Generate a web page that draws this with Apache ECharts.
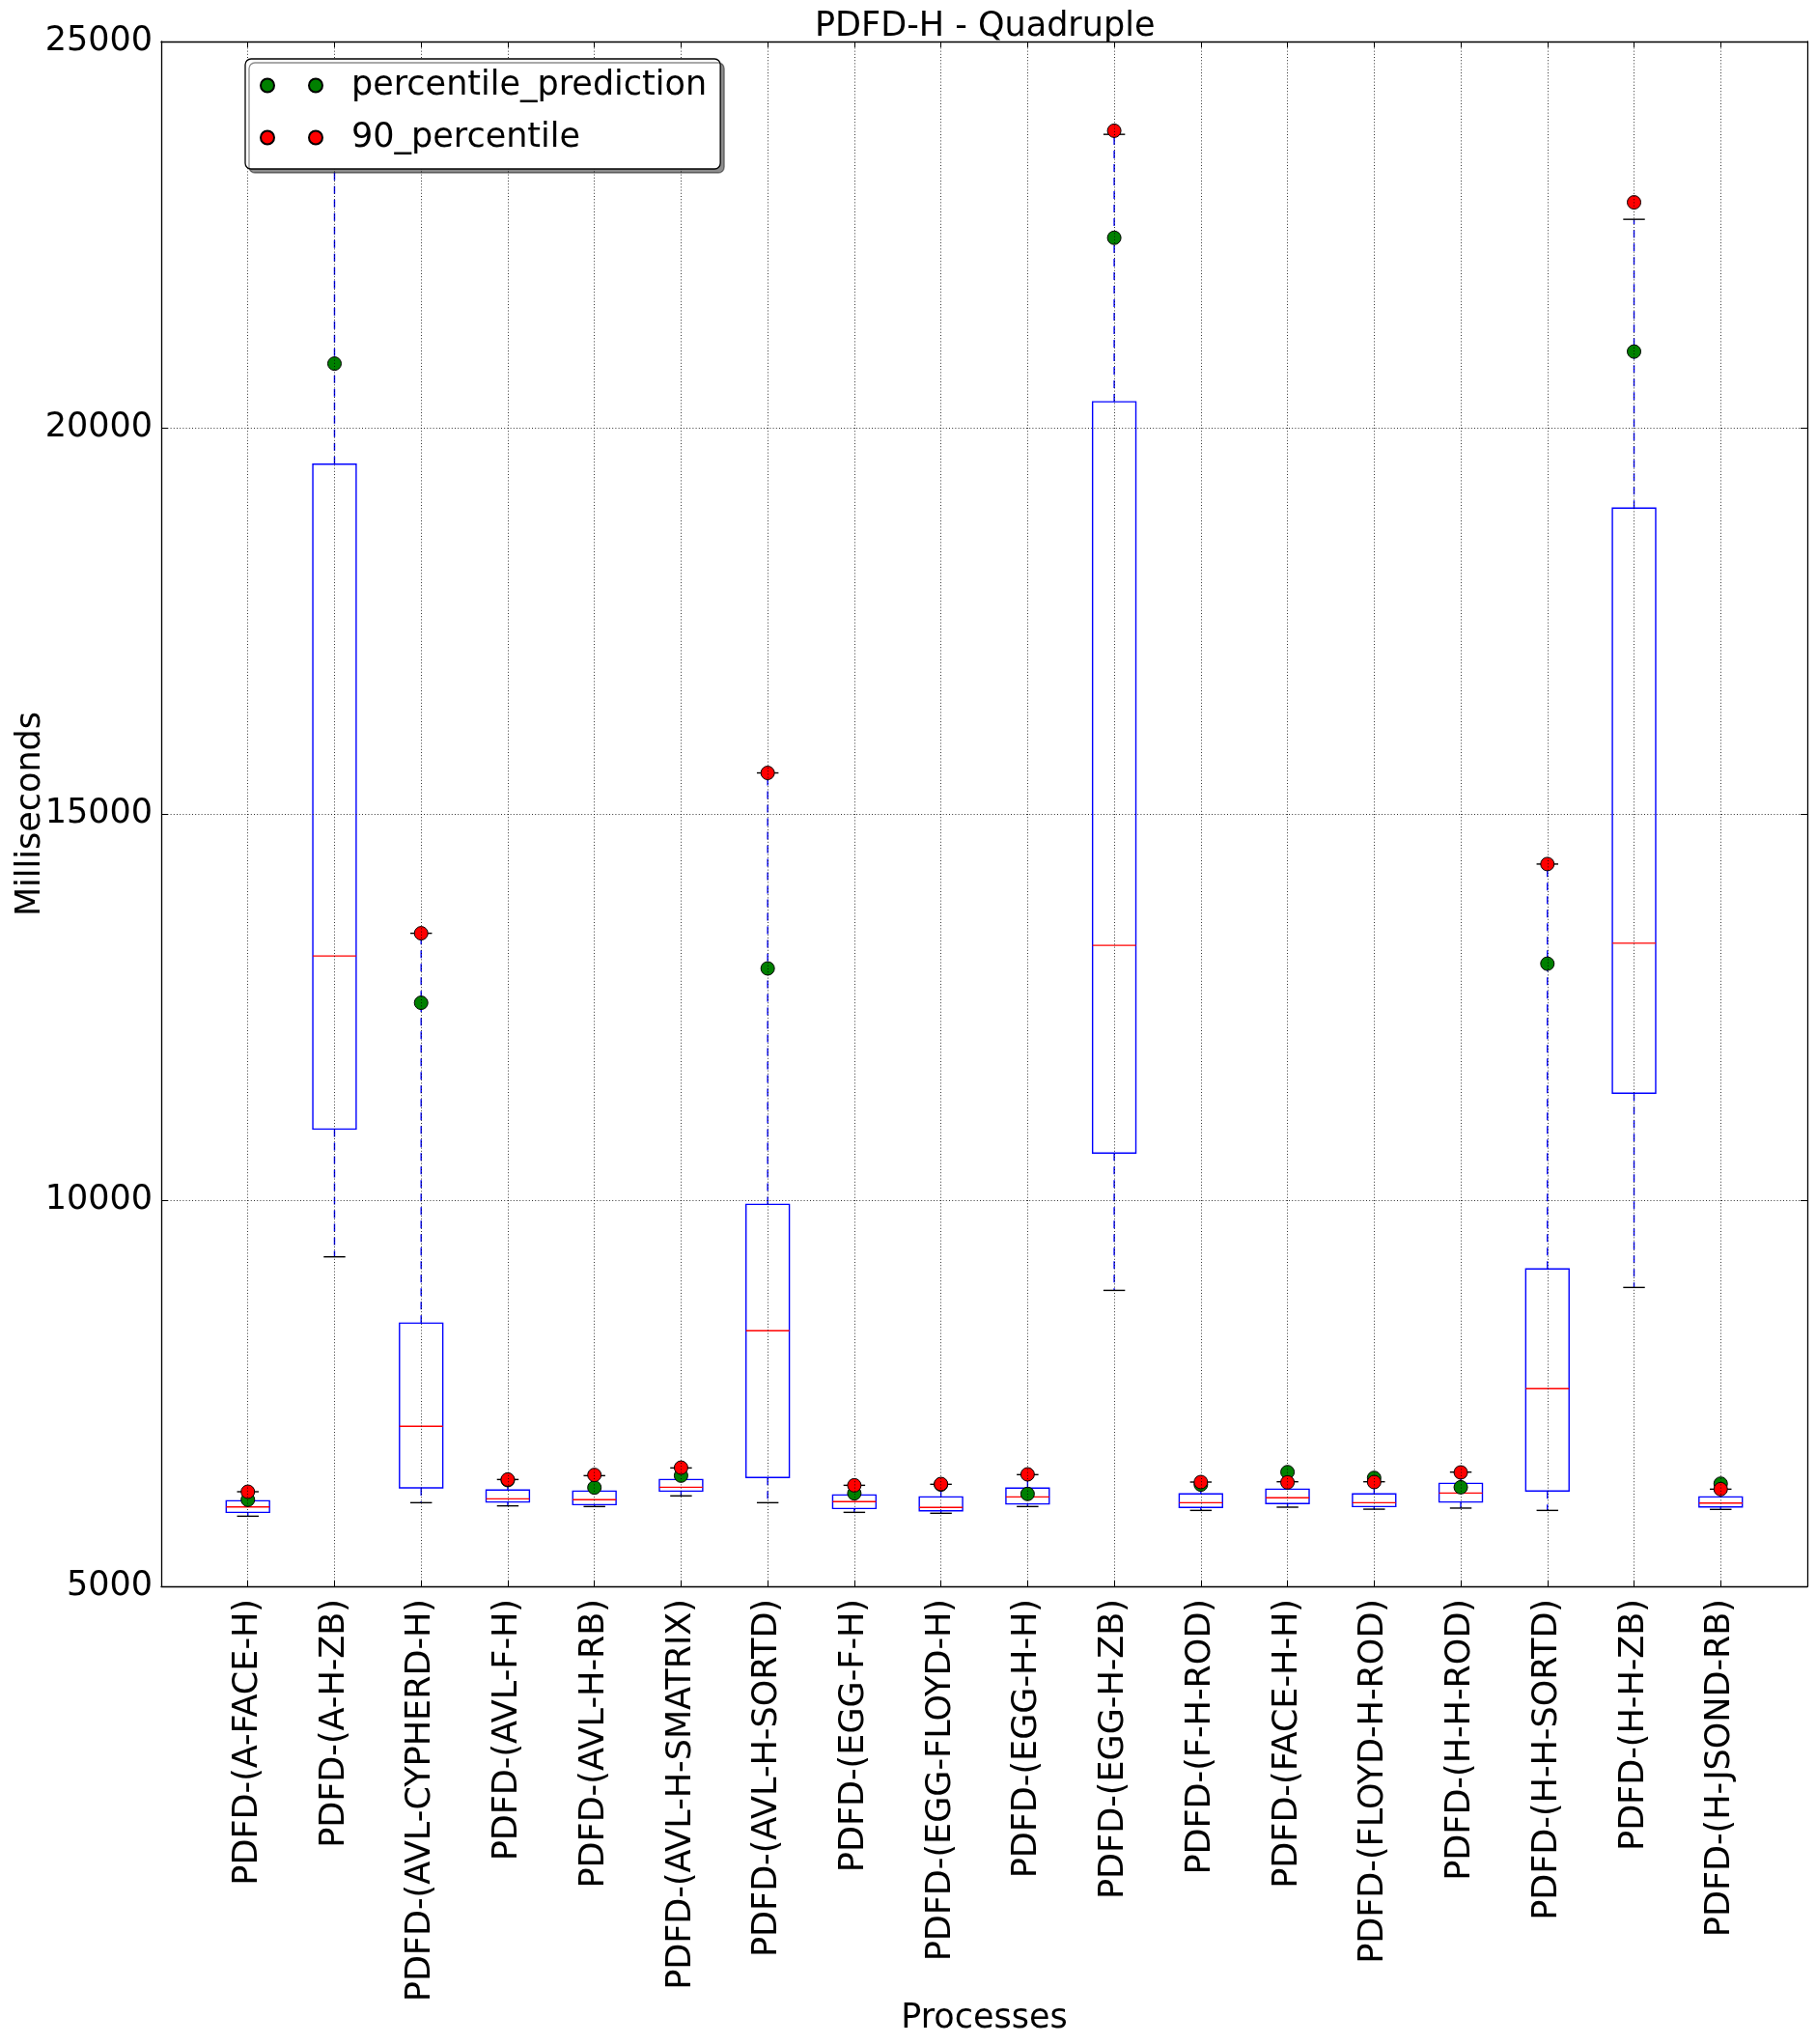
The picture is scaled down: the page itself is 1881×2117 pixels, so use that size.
<!DOCTYPE html>
<html>
<head>
<meta charset="utf-8">
<script src="https://cdn.jsdelivr.net/npm/echarts@6/dist/echarts.min.js"></script>
<style>
html,body{margin:0;padding:0;background:#fff;}
#chart{width:1881px;height:2117px;}
</style>
</head>
<body>
<div id="chart"></div>
<script>
const categories = ['PDFD-(A-FACE-H)','PDFD-(A-H-ZB)','PDFD-(AVL-CYPHERD-H)','PDFD-(AVL-F-H)','PDFD-(AVL-H-RB)','PDFD-(AVL-H-SMATRIX)','PDFD-(AVL-H-SORTD)','PDFD-(EGG-F-H)','PDFD-(EGG-FLOYD-H)','PDFD-(EGG-H-H)','PDFD-(EGG-H-ZB)','PDFD-(F-H-ROD)','PDFD-(FACE-H-H)','PDFD-(FLOYD-H-ROD)','PDFD-(H-H-ROD)','PDFD-(H-H-SORTD)','PDFD-(H-H-ZB)','PDFD-(H-JSOND-RB)'];
const whiskerLow  = [5908, 9266, 6083, 6042, 6033, 6171, 6083, 5958, 5946, 6033, 8832, 5983, 6025, 5999, 6013, 5983, 8870, 5996];
const q1          = [5958, 10920, 6275, 6092, 6058, 6233, 6410, 6008, 5979, 6067, 10610, 6021, 6071, 6033, 6092, 6235, 11384, 6029];
const median      = [6029, 13161, 7072, 6133, 6121, 6283, 8310, 6096, 6021, 6158, 13299, 6083, 6146, 6083, 6208, 7560, 13327, 6079];
const q3          = [6108, 19529, 8408, 6246, 6233, 6383, 9945, 6183, 6158, 6271, 20336, 6196, 6258, 6196, 6333, 9110, 18960, 6158];
const whiskerHigh = [6225, 24000, 13455, 6383, 6433, 6533, 15531, 6308, 6321, 6446, 23798, 6350, 6354, 6354, 6479, 14351, 22698, 6258];
const percentilePrediction = [6121, 20830, 12555, 6375, 6279, 6433, 13000, 6204, 6318, 6196, 22459, 6317, 6479, 6404, 6283, 13061, 20986, 6329];
const percentile90 = [6225, 24050, 13455, 6383, 6442, 6537, 15531, 6308, 6325, 6450, 23845, 6350, 6346, 6350, 6475, 14351, 22918, 6258];
const yTicks = [5000, 10000, 15000, 20000, 25000];

const FONT = 'DejaVu Sans';
const FS = 35;
const xData = [''].concat(categories, ['']);
const boxData = categories.map((c, i) => [i + 1, whiskerLow[i], q1[i], median[i], q3[i], whiskerHigh[i]]);
const greenData = categories.map((c, i) => [i + 1, percentilePrediction[i]]);
const redData = categories.map((c, i) => [i + 1, percentile90[i]]);

const chart = echarts.init(document.getElementById('chart'), null, {renderer: 'canvas'});

function renderBox(params, api) {
  const x = api.value(0);
  const lo = api.coord([x, api.value(1)]);
  const b1 = api.coord([x, api.value(2)]);
  const md = api.coord([x, api.value(3)]);
  const b3 = api.coord([x, api.value(4)]);
  const hi = api.coord([x, api.value(5)]);
  const band = api.size([1, 0])[0];
  const bw = band * 0.5, cw = band * 0.25;
  const cx = lo[0];
  const dash = {stroke: '#0000ff', lineWidth: 1.4, lineDash: [8, 6]};
  const solidK = {stroke: '#000000', lineWidth: 1.4};
  return {
    type: 'group',
    children: [
      {type: 'line', shape: {x1: cx, y1: b3[1], x2: cx, y2: hi[1]}, style: dash},
      {type: 'line', shape: {x1: cx, y1: b1[1], x2: cx, y2: lo[1]}, style: dash},
      {type: 'line', shape: {x1: cx - cw / 2, y1: hi[1], x2: cx + cw / 2, y2: hi[1]}, style: solidK},
      {type: 'line', shape: {x1: cx - cw / 2, y1: lo[1], x2: cx + cw / 2, y2: lo[1]}, style: solidK},
      {type: 'rect', shape: {x: cx - bw / 2, y: b3[1], width: bw, height: b1[1] - b3[1]}, style: {fill: 'none', stroke: '#0000ff', lineWidth: 1.4}},
      {type: 'line', shape: {x1: cx - bw / 2, y1: md[1], x2: cx + bw / 2, y2: md[1]}, style: {stroke: '#ff0000', lineWidth: 1.4}}
    ]
  };
}

const gridLine = {show: true, lineStyle: {color: '#000', width: 0.8, type: [1, 2.2]}};
const axisLineK = {show: true, onZero: false, lineStyle: {color: '#000', width: 1.3}};

const option = {
  animation: false,
  backgroundColor: '#ffffff',
  textStyle: {fontFamily: FONT},
  title: {
    text: 'PDFD-H - Quadruple',
    left: 844, top: 10, padding: 0,
    textStyle: {fontFamily: FONT, fontSize: FS, fontWeight: 'normal', color: '#000'}
  },
  grid: {left: 167, right: 9, top: 43, bottom: 474, containLabel: false, outerBoundsMode: 'none'},
  legend: {
    orient: 'vertical',
    left: 254, top: 61,
    padding: [7, 14, 12, 15],
    itemGap: 13,
    itemWidth: 64, itemHeight: 14,
    icon: 'path://M0,7A7,7,0,1,1,14,7A7,7,0,1,1,0,7ZM50,7A7,7,0,1,1,64,7A7,7,0,1,1,50,7Z',
    data: ['percentile_prediction', '90_percentile'],
    backgroundColor: '#ffffff',
    borderColor: '#000', borderWidth: 1.3, borderRadius: 6,
    shadowColor: 'rgba(0,0,0,0.45)', shadowOffsetX: 4, shadowOffsetY: 4, shadowBlur: 0,
    textStyle: {fontFamily: FONT, fontSize: FS, color: '#000', lineHeight: 41, padding: [0, 0, 0, 25]},
    z: 10
  },
  xAxis: [{
    type: 'category', data: xData, boundaryGap: false, position: 'bottom', z: 3,
    name: 'Processes', nameLocation: 'middle', nameGap: 430, nameMoveOverlap: false,
    nameTextStyle: {fontFamily: FONT, fontSize: FS, color: '#000'},
    axisLine: axisLineK,
    axisTick: {show: true, inside: true, length: 6, interval: 0, lineStyle: {color: '#000', width: 1}},
    axisLabel: {interval: 0, rotate: 90, margin: 13, fontFamily: FONT, fontSize: FS, color: '#000'},
    splitLine: Object.assign({interval: 0}, gridLine)
  }, {
    type: 'category', data: xData, boundaryGap: false, position: 'top', z: 3,
    axisLine: axisLineK,
    axisTick: {show: true, inside: true, length: 6, interval: 0, lineStyle: {color: '#000', width: 1}},
    axisLabel: {show: false},
    splitLine: {show: false}
  }],
  yAxis: [{
    type: 'value', min: yTicks[0], max: yTicks[yTicks.length - 1], interval: yTicks[1] - yTicks[0], z: 3,
    name: 'Milliseconds', nameLocation: 'middle', nameGap: 118, nameRotate: 90, nameMoveOverlap: false,
    nameTextStyle: {fontFamily: FONT, fontSize: FS, color: '#000'},
    axisLine: axisLineK,
    axisTick: {show: true, inside: true, length: 7, lineStyle: {color: '#000', width: 1}},
    axisLabel: {margin: 9, fontFamily: FONT, fontSize: FS, color: '#000', formatter: v => String(v)},
    splitLine: gridLine
  }, {
    type: 'value', min: yTicks[0], max: yTicks[yTicks.length - 1], interval: yTicks[1] - yTicks[0], position: 'right', z: 3,
    axisLine: axisLineK,
    axisTick: {show: true, inside: true, length: 7, lineStyle: {color: '#000', width: 1}},
    axisLabel: {show: false},
    splitLine: {show: false}
  }],
  series: [{
    type: 'custom', name: 'box', silent: true,
    xAxisIndex: 0, yAxisIndex: 0,
    data: boxData,
    encode: {x: 0, y: [1, 2, 3, 4, 5]},
    renderItem: renderBox,
    z: 1
  }, {
    type: 'scatter', name: 'percentile_prediction',
    xAxisIndex: 0, yAxisIndex: 0,
    data: greenData, symbol: 'circle', symbolSize: 14,
    itemStyle: {color: '#008000', borderColor: '#000', borderWidth: 1, opacity: 1},
    z: 2
  }, {
    type: 'scatter', name: '90_percentile',
    xAxisIndex: 0, yAxisIndex: 0,
    data: redData, symbol: 'circle', symbolSize: 14,
    itemStyle: {color: '#ff0000', borderColor: '#000', borderWidth: 1, opacity: 1},
    z: 2
  }]
};
chart.setOption(option);
</script>
</body>
</html>
